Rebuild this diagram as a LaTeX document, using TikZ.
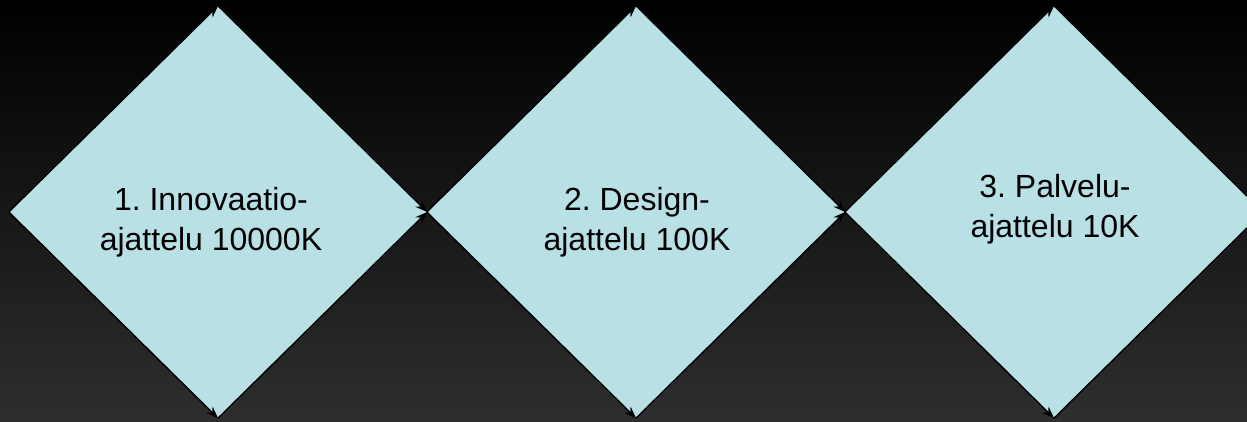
\documentclass[tikz,border=0pt]{standalone}
\usepackage{fontspec}
\setmainfont{Liberation Sans}
\usetikzlibrary{shapes.geometric,arrows.meta}
\definecolor{panel}{RGB}{185,224,228}
\definecolor{bgtop}{RGB}{0,0,0}
\definecolor{bgbottom}{RGB}{46,46,46}
\tikzset{
  x=1pt, y=-1pt,
  stage/.style={diamond, fill=panel, draw=none, inner sep=0pt, aspect=1,
    minimum width=418pt, minimum height=412pt},
  stagetext/.style={align=center, font=\frenchspacing\fontsize{32}{40}\selectfont, text=black},
  edge/.style={draw=black, line width=1.4pt,
    -{Stealth[length=12pt,width=9pt]}},
}
\begin{document}
\begin{tikzpicture}
  % background with dark vertical gradient
  \shade[top color=bgtop, bottom color=bgbottom] (0,0) rectangle (1247,422);
  \useasboundingbox (0,0) rectangle (1247,422);

  % the three stages
  \node[stage] (d1) at (218,212) {};
  \node[stage] (d2) at (636,212) {};
  \node[stage] (d3) at (1054,212) {};

  \node[stagetext] (t1) at (211,222) {1. Innovaatio-\\ajattelu 10000K};
  \node[stagetext] (t2) at (637,222) {2. Design-\\ajattelu 100K};
  \node[stagetext] (t3) at (1055,209) {3. Palvelu-\\ajattelu 10K};

  % outline of each stage drawn as arrows towards top, bottom and right corners
  \foreach \d in {d1,d2,d3}{
    \draw[edge] (\d.west) -- (\d.north);
    \draw[edge] (\d.north) -- (\d.east);
    \draw[edge] (\d.west) -- (\d.south);
    \draw[edge] (\d.south) -- (\d.east);
  }
\end{tikzpicture}
\end{document}
